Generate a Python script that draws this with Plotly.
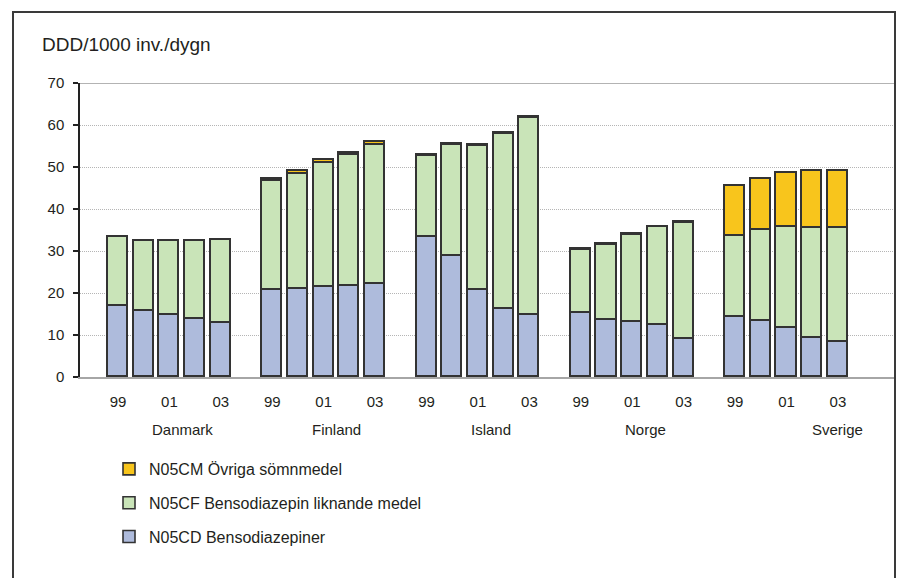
import plotly.graph_objects as go

# Nordic consumption of hypnotics and sedatives, DDD per 1000 inhabitants per day
countries = ["Danmark", "Finland", "Island", "Norge", "Sverige"]
years = ["99", "00", "01", "02", "03"]
year_labels = ["99", "01", "03"]

n05cd = {  # Bensodiazepiner
    "Danmark": [17.0, 15.6, 14.8, 13.8, 12.8],
    "Finland": [20.7, 21.0, 21.4, 21.7, 22.1],
    "Island":  [33.4, 28.9, 20.6, 16.1, 14.8],
    "Norge":   [15.2, 13.6, 13.1, 12.3, 9.1],
    "Sverige": [14.4, 13.3, 11.6, 9.4, 8.3],
}
n05cf = {  # Bensodiazepin liknande medel
    "Danmark": [16.4, 16.9, 17.7, 18.7, 19.8],
    "Finland": [26.0, 27.4, 29.5, 31.1, 33.2],
    "Island":  [19.3, 26.4, 34.5, 41.8, 46.8],
    "Norge":   [15.0, 17.9, 20.8, 23.3, 27.6],
    "Sverige": [19.2, 21.7, 24.2, 26.1, 27.2],
}
n05cm = {  # Övriga sömnmedel
    "Danmark": [0.0, 0.0, 0.0, 0.0, 0.0],
    "Finland": [0.5, 0.6, 0.7, 0.6, 0.6],
    "Island":  [0.2, 0.2, 0.2, 0.2, 0.2],
    "Norge":   [0.2, 0.2, 0.2, 0.2, 0.2],
    "Sverige": [11.9, 12.2, 12.7, 13.5, 13.5],
}

series = [
    ("N05CD Bensodiazepiner", n05cd, "#aebbdc"),
    ("N05CF Bensodiazepin liknande medel", n05cf, "#c9e4b8"),
    ("N05CM Övriga sömnmedel", n05cm, "#f8c51c"),
]

# one slot per year, plus an empty slot between countries
slots_per_group = len(years) + 1
xpos = [g * slots_per_group + i for g in range(len(countries)) for i in range(len(years))]

FONT = "Liberation Sans, Arial, sans-serif"
TEXT = "#231f20"

fig = go.Figure()
for k, (name, data, color) in enumerate(series):
    vals = [v for c in countries for v in data[c]]
    fig.add_trace(go.Bar(
        x=xpos, y=vals, name=name, legendgroup=f"g{k}",
        legendrank=len(series) - k,  # top segment listed first
        width=0.78,
        marker=dict(color=color, line=dict(color="#333333", width=1.6)),
    ))

tickvals = [g * slots_per_group + i for g in range(len(countries)) for i in (0, 2, 4)]
ticktext = year_labels * len(countries)

# group label positions along the category axis
group_x = [2.5, 8.5, 14.5, 20.5, 28.0]
for c, gx in zip(countries, group_x):
    fig.add_annotation(x=gx, y=-0.177, xref="x", yref="paper", text=c,
                       showarrow=False, xanchor="center", yanchor="middle",
                       font=dict(size=15, color=TEXT, family=FONT))

W, H = 901, 578
ml, mr, mt, mb = 80, 6, 83, 201
pw, ph = W - ml - mr, H - mt - mb

def px_x(p):
    return (p - ml) / pw

def px_y(p):
    return (H - mb - p) / ph

# outer frame
fig.add_shape(type="rect", xref="paper", yref="paper",
              x0=px_x(13), x1=px_x(895), y0=px_y(600), y1=px_y(12),
              line=dict(color="#3a3a3a", width=2), fillcolor="rgba(0,0,0,0)", layer="above")
# solid line at the top of the value axis
fig.add_shape(type="line", xref="paper", yref="y", x0=0, x1=1, y0=70, y1=70,
              line=dict(color="#9a9a9a", width=1.5), layer="below")

fig.update_layout(
    width=W, height=H,
    margin=dict(l=ml, r=mr, t=mt, b=mb),
    barmode="stack",
    plot_bgcolor="white", paper_bgcolor="white",
    font=dict(family=FONT, size=15, color=TEXT),
    title=dict(text="DDD/1000 inv./dygn", x=42 / W, y=1 - 44 / H,
               xref="container", yref="container", xanchor="left", yanchor="middle",
               font=dict(size=19, color=TEXT, family=FONT)),
    showlegend=True,
    legend=dict(x=px_x(109), y=px_y(452), xanchor="left", yanchor="top",
                traceorder="grouped", tracegroupgap=10,
                font=dict(size=16, color=TEXT, family=FONT),
                bgcolor="rgba(0,0,0,0)"),
    xaxis=dict(range=[-1.478, 30.22], tickvals=tickvals, ticktext=ticktext,
               showgrid=False, zeroline=False, showline=True,
               linecolor="#a6a6a6", linewidth=1.5, ticks="",
               ticklabelstandoff=10, tickfont=dict(size=15, color=TEXT)),
    yaxis=dict(range=[0, 70], dtick=10, showgrid=True, gridcolor="#b5b5b5",
               griddash="1px,1px", gridwidth=1, zeroline=False,
               showline=True, linecolor="#222222", linewidth=1.5,
               ticks="outside", ticklen=5, tickcolor="#222222", tickwidth=1.5,
               ticklabelstandoff=6, tickfont=dict(size=15, color=TEXT)),
    bargap=0,
)

fig.write_html("out.html")
